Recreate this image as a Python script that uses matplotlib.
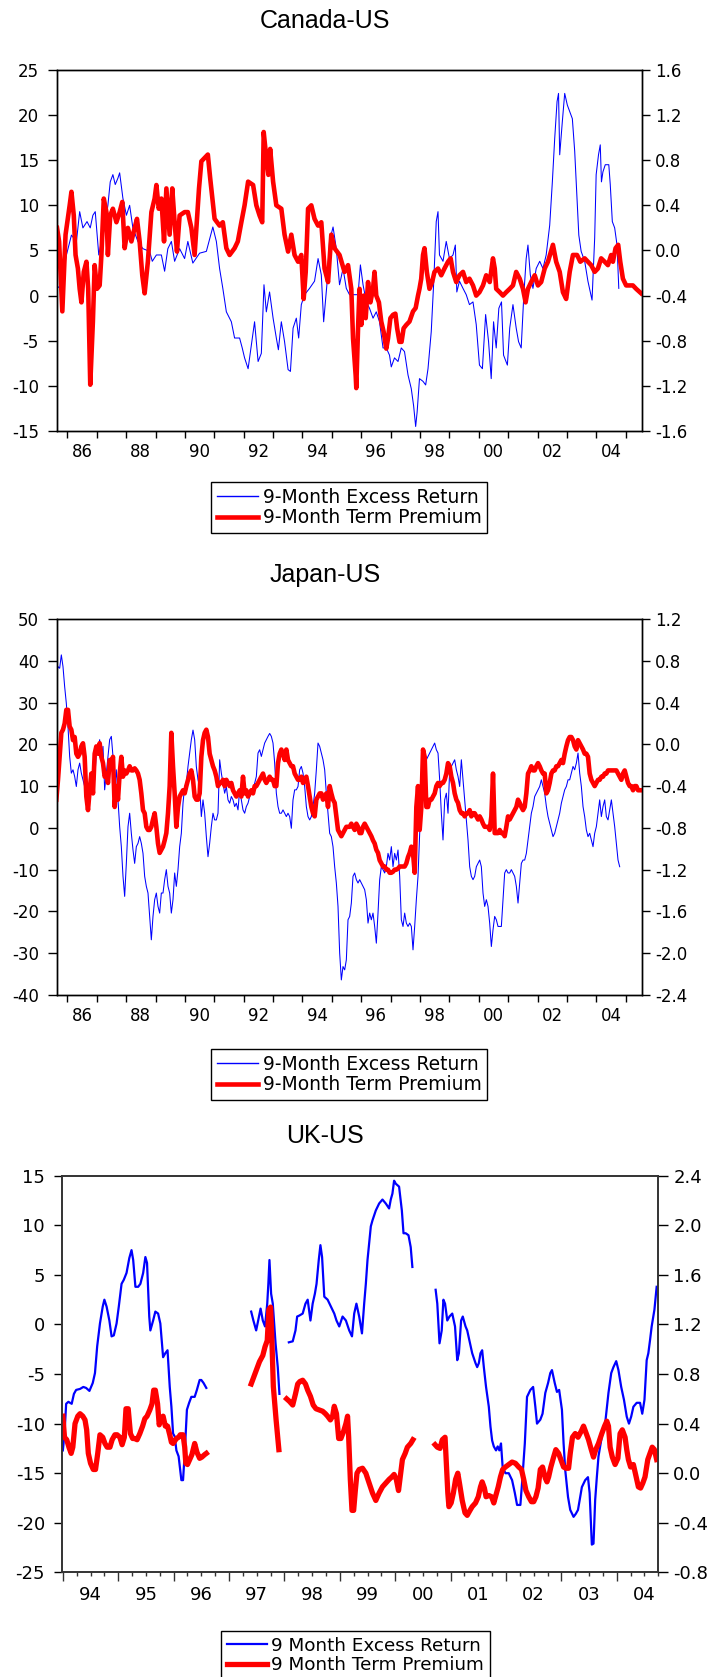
import numpy as np
import matplotlib
matplotlib.use('Agg')
import matplotlib.pyplot as plt
from matplotlib.ticker import FormatStrFormatter
from matplotlib.lines import Line2D

plt.rcParams['font.family'] = ['DejaVu Sans']
plt.rcParams['axes.unicode_minus'] = False

nan = np.nan

# ---------------- Canada-US: (year, value) ----------------
ca_excess = [
    (1985.65, 0.8), (1985.80, 1.2), (1985.97, 4.5), (1986.14, 6.7), (1986.31, 6.0), (1986.42, 9.3), (1986.53, 7.5), (1986.67, 8.2), (1986.78, 7.5), (1986.87, 8.9),
    (1986.95, 9.3), (1987.07, 4.5), (1987.16, 6.0), (1987.27, 7.5), (1987.38, 10.0), (1987.46, 12.6), (1987.55, 13.4), (1987.63, 12.3), (1987.72, 13.0), (1987.78, 13.6),
    (1987.89, 10.8), (1988.01, 8.9), (1988.12, 10.0), (1988.23, 7.5), (1988.40, 6.0), (1988.57, 5.2), (1988.80, 4.9), (1988.89, 3.8), (1989.03, 4.5), (1989.20, 4.5),
    (1989.31, 2.7), (1989.42, 5.2), (1989.54, 6.0), (1989.65, 3.8), (1989.82, 5.2), (1989.99, 4.1), (1990.10, 6.0), (1990.27, 3.6), (1990.50, 4.7), (1990.73, 4.9),
    (1990.95, 7.6), (1991.07, 6.0), (1991.18, 3.0), (1991.29, 0.8), (1991.41, -1.8), (1991.58, -2.9), (1991.69, -4.7), (1991.86, -4.7), (1991.95, -5.8), (1992.03, -6.9),
    (1992.15, -8.1), (1992.26, -5.5), (1992.37, -2.9), (1992.49, -7.3), (1992.60, -6.4), (1992.69, 1.2), (1992.77, -1.8), (1992.88, 0.4), (1993.00, -2.5), (1993.11, -4.7),
    (1993.18, -6.0), (1993.28, -2.9), (1993.39, -5.1), (1993.51, -8.2), (1993.59, -8.4), (1993.68, -3.6), (1993.79, -2.5), (1993.87, -4.7), (1993.96, -1.0), (1994.07, 0.1),
    (1994.24, 0.8), (1994.41, 1.6), (1994.53, 4.1), (1994.64, 2.3), (1994.72, -2.9), (1994.83, 1.2), (1994.92, 6.0), (1995.04, 7.6), (1995.15, 5.2), (1995.26, 1.2),
    (1995.38, 3.0), (1995.49, 0.8), (1995.60, 0.1), (1995.89, 0.1), (1995.97, 3.4), (1996.06, 1.2), (1996.17, -0.7), (1996.28, -1.4), (1996.40, -2.5), (1996.51, -1.8),
    (1996.62, -2.9), (1996.74, -5.8), (1996.85, -5.8), (1996.96, -6.6), (1997.02, -7.9), (1997.13, -6.9), (1997.25, -7.3), (1997.36, -5.8), (1997.47, -6.2), (1997.59, -8.8),
    (1997.70, -10.3), (1997.78, -12.2), (1997.85, -14.5), (1997.90, -12.9), (1997.98, -9.2), (1998.10, -9.5), (1998.19, -9.9), (1998.27, -8.1), (1998.38, -4.0), (1998.46, 1.2),
    (1998.55, 8.2), (1998.61, 9.3), (1998.66, 4.5), (1998.78, 3.8), (1998.89, 6.0), (1999.00, 4.1), (1999.12, 4.5), (1999.20, 5.6), (1999.25, 0.4), (1999.34, 1.6),
    (1999.46, 0.8), (1999.57, 0.1), (1999.68, -1.0), (1999.80, -0.7), (1999.91, -3.2), (2000.02, -7.7), (2000.12, -8.1), (2000.23, -2.1), (2000.33, -5.1), (2000.42, -9.2),
    (2000.50, -2.9), (2000.59, -5.8), (2000.68, -1.4), (2000.77, -0.7), (2000.84, -6.6), (2000.97, -7.7), (2001.05, -3.6), (2001.16, -1.0), (2001.27, -3.6), (2001.35, -5.1),
    (2001.44, -5.8), (2001.53, 0.1), (2001.61, 4.1), (2001.67, 5.6), (2001.75, 2.3), (2001.84, 0.8), (2001.95, 3.0), (2002.07, 3.8), (2002.18, 3.0), (2002.29, 4.5),
    (2002.41, 7.8), (2002.50, 12.6), (2002.58, 17.4), (2002.66, 21.5), (2002.71, 22.4), (2002.75, 15.6), (2002.84, 19.3), (2002.92, 22.4), (2003.01, 21.1), (2003.09, 20.4),
    (2003.18, 19.6), (2003.26, 16.0), (2003.34, 10.8), (2003.40, 6.7), (2003.48, 4.9), (2003.60, 3.8), (2003.71, 1.6), (2003.85, -0.5), (2003.94, 6.4), (2003.99, 13.4),
    (2004.07, 15.6), (2004.13, 16.7), (2004.17, 12.6), (2004.22, 13.7), (2004.30, 14.5), (2004.42, 14.5), (2004.47, 12.3), (2004.54, 8.2), (2004.62, 7.5), (2004.70, 5.6),
    (2004.76, 0.8),
]
ca_premium = [
    (1985.65, 0.20), (1985.72, 0.08), (1985.83, -0.54), (1985.94, 0.14), (1986.08, 0.40), (1986.14, 0.52), (1986.22, 0.31), (1986.28, -0.04), (1986.36, -0.16), (1986.42, -0.34),
    (1986.48, -0.46), (1986.56, -0.19), (1986.65, -0.10), (1986.71, -0.34), (1986.78, -1.19), (1986.87, -0.63), (1986.93, -0.13), (1987.01, -0.34), (1987.10, -0.31), (1987.16, -0.04),
    (1987.24, 0.46), (1987.33, 0.34), (1987.38, -0.04), (1987.46, 0.31), (1987.55, 0.37), (1987.67, 0.25), (1987.78, 0.34), (1987.87, 0.43), (1987.95, 0.02), (1988.06, 0.20),
    (1988.18, 0.08), (1988.29, 0.20), (1988.37, 0.28), (1988.46, 0.08), (1988.55, -0.22), (1988.63, -0.38), (1988.74, -0.10), (1988.86, 0.34), (1988.97, 0.46), (1989.03, 0.58),
    (1989.11, 0.37), (1989.20, 0.46), (1989.29, 0.08), (1989.37, 0.55), (1989.48, 0.14), (1989.57, 0.55), (1989.65, 0.25), (1989.73, -0.01), (1989.82, 0.31), (1989.99, 0.34),
    (1990.10, 0.34), (1990.22, 0.20), (1990.33, -0.04), (1990.48, 0.55), (1990.56, 0.79), (1990.67, 0.82), (1990.78, 0.85), (1990.86, 0.64), (1991.01, 0.28), (1991.18, 0.22),
    (1991.29, 0.25), (1991.41, 0.02), (1991.52, -0.04), (1991.69, 0.02), (1991.80, 0.08), (1991.92, 0.25), (1992.03, 0.40), (1992.15, 0.61), (1992.32, 0.58), (1992.43, 0.40),
    (1992.54, 0.31), (1992.63, 0.25), (1992.68, 1.05), (1992.77, 0.82), (1992.84, 0.67), (1992.90, 0.90), (1993.00, 0.61), (1993.11, 0.40), (1993.28, 0.37), (1993.39, 0.14),
    (1993.51, -0.01), (1993.62, 0.14), (1993.73, -0.04), (1993.85, -0.10), (1993.96, -0.04), (1994.04, -0.43), (1994.11, -0.19), (1994.19, 0.37), (1994.30, 0.40), (1994.41, 0.28),
    (1994.53, 0.22), (1994.64, 0.25), (1994.75, -0.16), (1994.87, -0.28), (1994.98, 0.14), (1995.09, 0.02), (1995.26, -0.04), (1995.43, -0.19), (1995.55, -0.13), (1995.66, -0.34),
    (1995.72, -0.78), (1995.81, -1.11), (1995.83, -1.22), (1995.89, -0.69), (1995.94, -0.34), (1996.00, -0.66), (1996.08, -0.40), (1996.15, -0.60), (1996.23, -0.28), (1996.31, -0.46),
    (1996.40, -0.34), (1996.45, -0.19), (1996.51, -0.40), (1996.60, -0.46), (1996.68, -0.63), (1996.76, -0.72), (1996.85, -0.87), (1996.91, -0.78), (1996.99, -0.60), (1997.08, -0.57),
    (1997.16, -0.56), (1997.22, -0.69), (1997.30, -0.81), (1997.37, -0.81), (1997.44, -0.69), (1997.53, -0.66), (1997.64, -0.63), (1997.76, -0.54), (1997.85, -0.51), (1997.93, -0.40),
    (1997.98, -0.34), (1998.04, -0.25), (1998.10, -0.04), (1998.15, 0.02), (1998.23, -0.19), (1998.32, -0.34), (1998.41, -0.28), (1998.49, -0.19), (1998.61, -0.16), (1998.72, -0.22),
    (1998.83, -0.16), (1998.95, -0.10), (1999.04, -0.07), (1999.12, -0.19), (1999.23, -0.28), (1999.34, -0.22), (1999.46, -0.19), (1999.57, -0.28), (1999.68, -0.25), (1999.80, -0.31),
    (1999.91, -0.40), (2000.02, -0.37), (2000.14, -0.31), (2000.25, -0.22), (2000.37, -0.28), (2000.48, -0.07), (2000.54, -0.16), (2000.59, -0.34), (2000.71, -0.37), (2000.82, -0.40),
    (2000.93, -0.37), (2001.05, -0.34), (2001.16, -0.31), (2001.27, -0.19), (2001.39, -0.25), (2001.50, -0.34), (2001.59, -0.46), (2001.67, -0.34), (2001.78, -0.28), (2001.90, -0.22),
    (2002.01, -0.31), (2002.12, -0.28), (2002.24, -0.16), (2002.35, -0.10), (2002.52, 0.05), (2002.63, -0.10), (2002.75, -0.19), (2002.86, -0.37), (2002.97, -0.43), (2003.09, -0.19),
    (2003.20, -0.04), (2003.34, -0.04), (2003.45, -0.10), (2003.60, -0.07), (2003.71, -0.10), (2003.82, -0.13), (2003.94, -0.19), (2004.05, -0.16), (2004.16, -0.07), (2004.28, -0.10),
    (2004.39, -0.13), (2004.50, -0.04), (2004.56, -0.10), (2004.65, 0.02), (2004.74, 0.05), (2004.81, -0.10), (2004.90, -0.25), (2005.01, -0.31), (2005.13, -0.31), (2005.24, -0.31),
    (2005.35, -0.34), (2005.52, -0.38),
]

# ---------------- Japan-US: evenly spaced observations ----------------
jp_start = 1985.626   # decimal year of first observation
jp_step = 0.0567      # about three weeks
jp_excess = [
    36.2, 38.6, 38.2, 41.4, 38.6, 33.8, 29.8, 24.2, 17.1, 13.1,
    13.9, 12.3, 9.9, 13.9, 15.5, 13.1, 11.5, 9.9, 6.7, 9.1,
    10.7, 9.9, 9.1, 11.5, 17.9, 18.7, 21.1, 16.3, 19.5, 9.1,
    13.1, 17.1, 21.1, 21.9, 17.1, 9.9, 13.9, 6.7, 0.3, -4.5,
    -11.6, -16.4, -8.5, 0.3, 3.5, -1.3, -5.3, -8.5, -4.5, -3.7,
    -2.1, -3.7, -6.1, -11.6, -14.0, -15.6, -21.2, -26.8, -21.2, -17.2,
    -15.6, -18.8, -20.4, -15.6, -15.6, -12.4, -10.0, -14.0, -15.6, -20.4,
    -17.2, -10.8, -14.0, -10.0, -4.5, -1.3, 5.9, 9.9, 10.7, 14.7,
    17.9, 21.1, 23.4, 21.1, 14.7, 11.5, 9.9, 2.7, 6.7, 3.5,
    -2.1, -6.9, -3.7, 0.3, 3.5, 1.9, 1.9, 3.5, 16.3, 13.1,
    10.7, 8.3, 9.9, 6.7, 5.9, 7.5, 6.7, 5.1, 5.9, 4.3,
    9.1, 6.7, 4.3, 3.5, 5.1, 5.9, 7.5, 8.3, 9.1, 10.7,
    12.3, 17.9, 18.7, 17.1, 18.7, 20.3, 21.1, 21.9, 22.6, 21.9,
    20.3, 15.5, 8.3, 5.1, 3.5, 3.5, 4.3, 3.5, 2.7, 3.5,
    2.7, -0.1, 6.7, 9.1, 9.1, 9.9, 13.9, 14.7, 13.1, 9.9,
    5.1, 2.7, 1.9, 2.7, 5.1, 8.3, 13.9, 20.3, 19.5, 17.9,
    16.3, 13.9, 8.3, 3.5, -1.3, -2.1, -4.5, -9.3, -13.2, -18.8,
    -30.0, -36.4, -33.2, -34.0, -31.6, -22.0, -21.2, -18.0, -11.6, -10.8,
    -12.4, -13.2, -12.4, -13.2, -14.0, -14.8, -17.2, -22.8, -20.4, -22.0,
    -20.4, -23.6, -27.6, -20.4, -12.4, -9.3, -10.0, -10.8, -9.3, -6.1,
    -7.7, -4.5, -9.3, -6.1, -7.7, -5.3, -11.6, -22.0, -23.6, -20.4,
    -22.8, -23.6, -22.8, -23.6, -29.2, -23.6, -17.2, -11.6, -1.3, 6.7,
    14.7, 16.3, 16.3, 17.1, 17.9, 18.7, 19.5, 20.3, 18.7, 17.9,
    11.5, 3.5, -2.9, 6.7, 8.3, 3.5, 13.9, 14.7, 15.5, 16.3,
    13.9, 12.3, 9.9, 16.3, 11.5, 6.7, 1.9, -2.9, -9.3, -11.6,
    -12.4, -11.6, -9.3, -8.5, -7.7, -9.3, -15.6, -18.8, -17.2, -18.8,
    -22.8, -28.4, -24.4, -21.2, -22.0, -23.6, -23.6, -23.6, -17.2, -10.8,
    -10.0, -10.8, -10.8, -10.0, -10.8, -11.6, -14.0, -18.0, -13.2, -8.5,
    -7.7, -7.7, -6.1, -2.9, 0.3, 3.5, 5.1, 7.5, 8.3, 9.1,
    9.9, 11.5, 9.9, 8.3, 5.1, 2.7, 1.1, -0.5, -2.1, -1.3,
    0.3, 1.9, 3.5, 5.9, 7.5, 9.1, 9.9, 11.5, 11.5, 13.1,
    14.7, 13.9, 15.5, 17.9, 13.1, 9.9, 5.1, 2.7, -0.5, -2.1,
    -1.3, -2.9, -4.5, -1.3, 0.3, 3.5, 6.7, 2.7, 5.1, 6.7,
    2.7, 1.9, 4.3, 6.7, 3.5, 0.3, -3.7, -7.7, -9.3,
]
jp_premium = [
    -0.53, -0.34, -0.12, 0.11, 0.14, 0.20, 0.33, 0.33, 0.17, 0.14,
    0.04, 0.07, -0.09, -0.12, -0.09, -0.02, 0.01, -0.12, -0.50, -0.63,
    -0.44, -0.28, -0.47, -0.09, -0.02, -0.09, 0.01, -0.12, -0.18, -0.31,
    -0.28, -0.37, -0.15, -0.18, -0.12, -0.60, -0.40, -0.53, -0.28, -0.12,
    -0.31, -0.25, -0.28, -0.25, -0.21, -0.25, -0.25, -0.23, -0.25, -0.28,
    -0.34, -0.47, -0.63, -0.66, -0.79, -0.82, -0.82, -0.79, -0.72, -0.66,
    -0.79, -0.95, -1.04, -1.01, -0.98, -0.92, -0.85, -0.66, -0.40, 0.11,
    -0.21, -0.47, -0.79, -0.60, -0.50, -0.47, -0.44, -0.47, -0.40, -0.34,
    -0.28, -0.25, -0.34, -0.50, -0.53, -0.53, -0.47, -0.12, 0.04, 0.11,
    0.14, 0.07, -0.09, -0.15, -0.21, -0.25, -0.31, -0.40, -0.37, -0.37,
    -0.34, -0.40, -0.34, -0.37, -0.40, -0.37, -0.44, -0.47, -0.50, -0.47,
    -0.44, -0.50, -0.31, -0.47, -0.44, -0.50, -0.47, -0.44, -0.47, -0.40,
    -0.40, -0.37, -0.34, -0.31, -0.28, -0.34, -0.37, -0.34, -0.31, -0.34,
    -0.34, -0.40, -0.40, -0.18, -0.09, -0.05, -0.09, -0.15, -0.05, -0.15,
    -0.18, -0.21, -0.21, -0.28, -0.31, -0.34, -0.34, -0.31, -0.37, -0.34,
    -0.31, -0.40, -0.50, -0.60, -0.66, -0.69, -0.53, -0.50, -0.47, -0.47,
    -0.53, -0.50, -0.47, -0.60, -0.40, -0.47, -0.53, -0.56, -0.69, -0.82,
    -0.85, -0.88, -0.85, -0.82, -0.79, -0.79, -0.79, -0.76, -0.79, -0.82,
    -0.76, -0.79, -0.85, -0.85, -0.79, -0.76, -0.79, -0.82, -0.85, -0.88,
    -0.92, -0.95, -1.01, -1.04, -1.11, -1.14, -1.17, -1.17, -1.20, -1.20,
    -1.23, -1.23, -1.22, -1.20, -1.20, -1.19, -1.17, -1.17, -1.17, -1.17,
    -1.14, -1.08, -1.04, -0.98, -1.04, -1.23, -0.60, -0.40, -0.82, -0.60,
    -0.05, -0.12, -0.60, -0.60, -0.53, -0.53, -0.50, -0.47, -0.40, -0.37,
    -0.40, -0.37, -0.37, -0.34, -0.28, -0.18, -0.21, -0.31, -0.37, -0.47,
    -0.53, -0.56, -0.63, -0.66, -0.66, -0.69, -0.66, -0.66, -0.63, -0.69,
    -0.66, -0.66, -0.69, -0.72, -0.69, -0.72, -0.76, -0.79, -0.79, -0.79,
    -0.82, -0.69, -0.28, -0.85, -0.85, -0.85, -0.82, -0.85, -0.85, -0.88,
    -0.79, -0.69, -0.72, -0.69, -0.66, -0.63, -0.60, -0.53, -0.56, -0.60,
    -0.63, -0.60, -0.47, -0.28, -0.25, -0.21, -0.25, -0.25, -0.21, -0.18,
    -0.21, -0.25, -0.28, -0.28, -0.47, -0.44, -0.37, -0.28, -0.25, -0.25,
    -0.21, -0.21, -0.18, -0.15, -0.18, -0.09, -0.02, 0.04, 0.07, 0.07,
    0.04, -0.02, -0.05, 0.04, 0.01, -0.02, -0.05, -0.09, -0.09, -0.12,
    -0.28, -0.34, -0.37, -0.40, -0.37, -0.34, -0.34, -0.31, -0.31, -0.28,
    -0.28, -0.25, -0.25, -0.25, -0.25, -0.25, -0.25, -0.28, -0.31, -0.34,
    -0.28, -0.25, -0.31, -0.37, -0.40, -0.40, -0.44, -0.40, -0.40, -0.44,
    -0.44, -0.44,
]

# ---------------- UK-US: (year, value), nan = no observation ----------------
uk_excess = [
    (1994.00, -12.7), (1994.03, -11.0), (1994.06, -8.0), (1994.10, -7.8), (1994.16, -8.0), (1994.20, -7.0), (1994.24, -6.6), (1994.31, -6.5), (1994.37, -6.3), (1994.42, -6.4),
    (1994.48, -6.7), (1994.54, -5.9), (1994.58, -4.9), (1994.62, -2.2), (1994.67, 0.1), (1994.72, 1.8), (1994.75, 2.5), (1994.79, 1.8), (1994.84, 0.4), (1994.88, -1.2),
    (1994.92, -1.1), (1994.97, 0.1), (1995.01, 1.8), (1995.06, 4.1), (1995.10, 4.5), (1995.15, 5.2), (1995.20, 6.7), (1995.24, 7.5), (1995.27, 6.5), (1995.31, 3.8),
    (1995.36, 3.8), (1995.40, 4.1), (1995.45, 5.2), (1995.49, 6.8), (1995.52, 6.2), (1995.56, 0.8), (1995.58, -0.6), (1995.63, 0.4), (1995.67, 1.3), (1995.72, 1.1),
    (1995.76, 0.1), (1995.81, -3.3), (1995.85, -2.9), (1995.89, -2.6), (1995.93, -6.3), (1995.96, -8.3), (1995.99, -11.0), (1996.02, -11.3), (1996.05, -12.7), (1996.09, -13.3),
    (1996.14, -15.7), (1996.17, -15.7), (1996.20, -13.0), (1996.24, -8.6), (1996.28, -7.9), (1996.32, -7.3), (1996.38, -7.3), (1996.42, -6.6), (1996.47, -5.6), (1996.50, -5.6),
    (1996.54, -5.9), (1996.59, -6.4),
    (1997.00, nan),
    (1997.40, 1.3), (1997.44, 0.4), (1997.49, -0.6), (1997.54, 0.8), (1997.57, 1.6), (1997.61, 0.4), (1997.65, -0.2), (1997.69, 2.1), (1997.71, 4.1), (1997.73, 6.5),
    (1997.76, 3.1), (1997.79, 2.1), (1997.84, -1.9), (1997.88, -4.3), (1997.91, -7.0),
    (1998.00, nan),
    (1998.08, -1.8), (1998.15, -1.7), (1998.20, -0.6), (1998.23, 0.8), (1998.27, 0.9), (1998.33, 1.1), (1998.38, 2.1), (1998.42, 2.5), (1998.47, 0.4), (1998.51, 2.1),
    (1998.55, 3.1), (1998.58, 4.1), (1998.62, 6.5), (1998.65, 8.0), (1998.68, 6.8), (1998.72, 2.8), (1998.78, 2.5), (1998.84, 1.8), (1998.90, 1.1), (1998.94, 0.4),
    (1998.99, -0.2), (1999.05, 0.8), (1999.11, 0.4), (1999.17, -0.6), (1999.22, -1.2), (1999.26, 1.1), (1999.30, 2.1), (1999.35, 0.8), (1999.40, -0.9), (1999.44, 2.1),
    (1999.47, 4.1), (1999.50, 6.5), (1999.53, 8.2), (1999.56, 9.9), (1999.59, 10.5), (1999.65, 11.5), (1999.71, 12.2), (1999.77, 12.6), (1999.83, 12.2), (1999.89, 11.7),
    (1999.92, 12.6), (1999.95, 13.2), (1999.98, 14.5), (2000.01, 14.2), (2000.07, 13.9), (2000.12, 11.5), (2000.15, 9.2), (2000.19, 9.2), (2000.24, 9.0), (2000.28, 7.8),
    (2000.31, 5.8),
    (2000.50, nan),
    (2000.73, 3.5), (2000.76, 2.1), (2000.80, -1.9), (2000.84, -0.6), (2000.87, 2.5), (2000.90, 2.1), (2000.94, 0.4), (2000.98, 0.8), (2001.03, 1.1), (2001.08, -0.2),
    (2001.12, -3.6), (2001.15, -2.9), (2001.19, 0.4), (2001.22, 0.8), (2001.27, -0.2), (2001.30, -0.6), (2001.34, -1.6), (2001.39, -2.9), (2001.45, -3.9), (2001.48, -4.3),
    (2001.51, -3.9), (2001.54, -2.9), (2001.57, -2.6), (2001.60, -4.3), (2001.64, -6.3), (2001.69, -8.3), (2001.72, -10.3), (2001.75, -11.7), (2001.78, -12.3), (2001.82, -12.7),
    (2001.85, -12.3), (2001.88, -12.7), (2001.91, -12.0), (2001.94, -14.4), (2001.99, -15.0), (2002.05, -15.0), (2002.11, -15.7), (2002.16, -17.0), (2002.20, -18.2), (2002.26, -18.2),
    (2002.29, -16.0), (2002.34, -12.0), (2002.38, -7.3), (2002.44, -6.6), (2002.49, -6.3), (2002.53, -8.3), (2002.56, -10.0), (2002.62, -9.6), (2002.66, -9.0), (2002.71, -6.9),
    (2002.76, -5.9), (2002.80, -4.9), (2002.83, -4.6), (2002.88, -5.9), (2002.92, -6.8), (2002.96, -6.6), (2003.01, -8.6), (2003.04, -12.0), (2003.07, -14.7), (2003.12, -17.4),
    (2003.16, -18.7), (2003.22, -19.4), (2003.26, -19.1), (2003.30, -18.7), (2003.34, -17.4), (2003.37, -16.4), (2003.43, -15.7), (2003.48, -15.4), (2003.51, -17.0), (2003.55, -22.2),
    (2003.58, -22.1), (2003.61, -17.7), (2003.64, -15.4), (2003.67, -13.3), (2003.70, -12.3), (2003.73, -11.3), (2003.79, -10.0), (2003.85, -6.9), (2003.90, -4.9), (2003.94, -4.3),
    (2003.99, -3.7), (2004.03, -4.6), (2004.08, -6.3), (2004.13, -7.6), (2004.18, -9.3), (2004.22, -10.0), (2004.26, -9.3), (2004.30, -8.3), (2004.36, -7.9), (2004.42, -7.9),
    (2004.46, -9.0), (2004.50, -7.6), (2004.54, -3.6), (2004.57, -2.9), (2004.60, -1.6), (2004.63, -0.2), (2004.68, 1.5), (2004.72, 3.8),
]
uk_premium = [
    (1994.00, 0.46), (1994.03, 0.29), (1994.07, 0.27), (1994.11, 0.21), (1994.15, 0.16), (1994.18, 0.21), (1994.22, 0.40), (1994.27, 0.46), (1994.31, 0.48), (1994.36, 0.46),
    (1994.40, 0.43), (1994.43, 0.35), (1994.46, 0.16), (1994.50, 0.08), (1994.55, 0.03), (1994.59, 0.03), (1994.63, 0.16), (1994.67, 0.31), (1994.72, 0.29), (1994.76, 0.24),
    (1994.80, 0.21), (1994.85, 0.21), (1994.89, 0.27), (1994.94, 0.31), (1994.98, 0.31), (1995.03, 0.29), (1995.07, 0.23), (1995.11, 0.29), (1995.14, 0.52), (1995.18, 0.52),
    (1995.22, 0.32), (1995.26, 0.28), (1995.30, 0.28), (1995.34, 0.27), (1995.39, 0.32), (1995.44, 0.38), (1995.48, 0.44), (1995.52, 0.46), (1995.57, 0.51), (1995.61, 0.56),
    (1995.64, 0.67), (1995.67, 0.67), (1995.71, 0.56), (1995.74, 0.39), (1995.77, 0.44), (1995.81, 0.46), (1995.85, 0.38), (1995.89, 0.38), (1995.93, 0.31), (1995.96, 0.25),
    (1995.99, 0.24), (1996.05, 0.28), (1996.09, 0.29), (1996.12, 0.31), (1996.17, 0.31), (1996.20, 0.21), (1996.22, 0.08), (1996.25, 0.07), (1996.29, 0.11), (1996.33, 0.15),
    (1996.38, 0.24), (1996.42, 0.17), (1996.47, 0.12), (1996.51, 0.13), (1996.56, 0.15), (1996.59, 0.16),
    (1997.00, nan),
    (1997.40, 0.72), (1997.45, 0.78), (1997.49, 0.83), (1997.55, 0.90), (1997.61, 0.95), (1997.65, 1.02), (1997.69, 1.07), (1997.72, 1.32), (1997.75, 1.34), (1997.77, 1.13),
    (1997.80, 0.70), (1997.85, 0.43), (1997.90, 0.19),
    (1997.97, nan),
    (1998.04, 0.60), (1998.09, 0.58), (1998.15, 0.55), (1998.20, 0.64), (1998.24, 0.72), (1998.28, 0.74), (1998.33, 0.75), (1998.38, 0.72), (1998.42, 0.67), (1998.47, 0.62),
    (1998.52, 0.55), (1998.57, 0.52), (1998.63, 0.51), (1998.69, 0.50), (1998.74, 0.48), (1998.78, 0.46), (1998.83, 0.43), (1998.87, 0.46), (1998.90, 0.54), (1998.94, 0.48),
    (1998.98, 0.28), (1999.02, 0.28), (1999.07, 0.34), (1999.11, 0.40), (1999.14, 0.46), (1999.16, 0.29), (1999.19, -0.05), (1999.22, -0.30), (1999.25, -0.30), (1999.28, -0.14),
    (1999.31, 0.00), (1999.35, 0.03), (1999.41, 0.04), (1999.47, 0.00), (1999.53, -0.08), (1999.59, -0.16), (1999.65, -0.22), (1999.71, -0.16), (1999.77, -0.11), (1999.83, -0.08),
    (1999.89, -0.05), (1999.94, -0.03), (1999.98, -0.01), (2000.02, -0.05), (2000.06, -0.14), (2000.10, 0.00), (2000.13, 0.11), (2000.18, 0.16), (2000.22, 0.21), (2000.28, 0.24),
    (2000.32, 0.27),
    (2000.50, nan),
    (2000.72, 0.23), (2000.76, 0.21), (2000.81, 0.20), (2000.85, 0.27), (2000.90, 0.29), (2000.92, 0.11), (2000.95, -0.16), (2000.97, -0.27), (2001.01, -0.24), (2001.05, -0.16),
    (2001.09, -0.05), (2001.13, 0.00), (2001.16, -0.08), (2001.21, -0.22), (2001.26, -0.32), (2001.30, -0.34), (2001.35, -0.30), (2001.39, -0.27), (2001.45, -0.24), (2001.50, -0.19),
    (2001.54, -0.11), (2001.57, -0.07), (2001.61, -0.12), (2001.64, -0.19), (2001.69, -0.18), (2001.74, -0.19), (2001.78, -0.24), (2001.81, -0.19), (2001.86, -0.11), (2001.90, -0.03),
    (2001.94, 0.03), (2001.99, 0.05), (2002.05, 0.07), (2002.11, 0.09), (2002.17, 0.08), (2002.23, 0.05), (2002.28, 0.03), (2002.32, -0.05), (2002.36, -0.14), (2002.41, -0.19),
    (2002.46, -0.23), (2002.50, -0.23), (2002.54, -0.19), (2002.58, -0.12), (2002.62, 0.03), (2002.66, 0.05), (2002.71, -0.04), (2002.74, -0.07), (2002.77, -0.03), (2002.81, 0.05),
    (2002.86, 0.13), (2002.90, 0.19), (2002.95, 0.16), (2002.99, 0.11), (2003.04, 0.05), (2003.08, 0.04), (2003.13, 0.04), (2003.16, 0.16), (2003.20, 0.29), (2003.25, 0.32),
    (2003.30, 0.29), (2003.36, 0.34), (2003.40, 0.38), (2003.45, 0.32), (2003.49, 0.27), (2003.54, 0.19), (2003.58, 0.13), (2003.62, 0.19), (2003.67, 0.24), (2003.73, 0.32),
    (2003.78, 0.38), (2003.82, 0.42), (2003.85, 0.38), (2003.88, 0.21), (2003.92, 0.13), (2003.97, 0.07), (2004.02, 0.12), (2004.06, 0.32), (2004.10, 0.35), (2004.15, 0.29),
    (2004.18, 0.19), (2004.21, 0.11), (2004.25, 0.05), (2004.30, 0.07), (2004.35, -0.03), (2004.39, -0.11), (2004.43, -0.12), (2004.47, -0.08), (2004.51, -0.03), (2004.56, 0.11),
    (2004.60, 0.16), (2004.64, 0.21), (2004.68, 0.19), (2004.72, 0.11),
]

BLUE = '#0000ff'
RED = '#ff0000'
TITLE_FONT = 'Liberation Sans'

fig = plt.figure(figsize=(7.12, 16.77), dpi=100)


def unzip(pairs):
    a = np.array(pairs, dtype=float)
    return a[:, 0], a[:, 1]


def setup_y(ax, axr, lticks, rticks, size, lpad, rlen, rpad, llen):
    ax.set_ylim(lticks[0], lticks[-1])
    ax.set_yticks(lticks)
    ax.tick_params(axis='y', direction='out', length=llen, width=1, pad=lpad,
                   labelsize=size, colors='black')
    axr.set_ylim(rticks[0], rticks[-1])
    axr.set_yticks(rticks)
    axr.yaxis.set_major_formatter(FormatStrFormatter('%.1f'))
    axr.tick_params(axis='y', direction='out', length=rlen, width=1, pad=rpad,
                    labelsize=size, colors='black')


def add_legend(anchor, size, lw_blue, lw_red, text):
    handles = [Line2D([], [], color=BLUE, lw=lw_blue),
               Line2D([], [], color=RED, lw=lw_red)]
    leg = fig.legend(handles, text, loc='upper left', bbox_to_anchor=anchor,
                     frameon=True, fancybox=False, framealpha=1, edgecolor='black',
                     fontsize=size, handlelength=2.2, handletextpad=0.25,
                     borderpad=0.3, labelspacing=0.1, borderaxespad=0)
    leg.get_frame().set_linewidth(1.0)


labels_dash = ['9-Month Excess Return', '9-Month Term Premium']
year_labels = ['86', '88', '90', '92', '94', '96', '98', '00', '02', '04']


def long_panel(rect, title_y, title):
    ax = fig.add_axes(rect)
    axr = ax.twinx()
    ax.set_xlim(1985.65, 2005.55)
    ax.set_xticks(np.arange(1986, 2006))
    ax.set_xticks(np.arange(1986.5, 2005, 2), labels=year_labels, minor=True)
    ax.tick_params(axis='x', which='major', direction='out', length=5, width=1,
                   labelbottom=False)
    ax.tick_params(axis='x', which='minor', length=0, pad=9, labelsize=12)
    for a in (ax, axr):
        for s in a.spines.values():
            s.set_linewidth(1.0)
            s.set_color('black')
    fig.text(0.4565, title_y, title, ha='center', va='baseline', fontsize=18,
             family=TITLE_FONT)
    return ax, axr


# Canada-US
ax1, ax1r = long_panel([0.0801, 0.7430, 0.8216, 0.2153], 0.9831, 'Canada-US')
x, y = unzip(ca_excess)
ax1.plot(x, y, color=BLUE, lw=0.75)
x, y = unzip(ca_premium)
ax1r.plot(x, y, color=RED, lw=3.3)
setup_y(ax1, ax1r, np.arange(-15, 26, 5), np.arange(-16, 17, 4) / 10, 12, 6.5, 5.8, 3.6, 6.5)
add_legend((0.2963, 0.7126), 13.5, 1.0, 3.3, labels_dash)

# Japan-US
ax2, ax2r = long_panel([0.0801, 0.4067, 0.8216, 0.2242], 0.6530, 'Japan-US')
ax2.plot(jp_start + jp_step * np.arange(len(jp_excess)), jp_excess, color=BLUE, lw=0.75)
ax2r.plot(jp_start + jp_step * np.arange(len(jp_premium)), jp_premium, color=RED, lw=3.3)
setup_y(ax2, ax2r, np.arange(-40, 51, 10), np.arange(-24, 13, 4) / 10, 12, 6.5, 5.8, 3.6, 6.5)
add_legend((0.2963, 0.3745), 13.5, 1.0, 3.3, labels_dash)

# UK-US
ax3 = fig.add_axes([0.0867, 0.0624, 0.8379, 0.2365])
ax3r = ax3.twinx()
x, y = unzip(uk_excess)
ax3.plot(x, y, color=BLUE, lw=1.6)
x, y = unzip(uk_premium)
ax3r.plot(x, y, color=RED, lw=3.8)
ax3.set_xlim(1993.98, 2004.73)
ax3.set_xticks(np.arange(1994, 2005))
ax3.set_xticks(np.arange(1994, 2004.8, 0.25), minor=True)
ax3.tick_params(axis='x', which='major', direction='out', length=6.5, width=1,
                labelbottom=False, color='#333333')
ax3.tick_params(axis='x', which='minor', direction='out', length=3, width=1,
                labelbottom=False, color='#333333')
sec = ax3.secondary_xaxis('bottom')
sec.set_xticks(np.arange(1994.5, 2005), labels=['94', '95', '96', '97', '98', '99',
                                                  '00', '01', '02', '03', '04'])
sec.tick_params(length=0, pad=10, labelsize=13)
sec.spines['bottom'].set_visible(False)
setup_y(ax3, ax3r, np.arange(-25, 16, 5), np.arange(-8, 25, 4) / 10, 13, 6, 7.2, 3.6, 6)
for a in (ax3, ax3r):
    for s in a.spines.values():
        s.set_linewidth(1.2)
        s.set_color('#333333')
fig.text(0.4565, 0.3184, 'UK-US', ha='center', va='baseline', fontsize=18,
         family=TITLE_FONT)
add_legend((0.3104, 0.0274), 13.2, 1.6, 3.8,
           ['9 Month Excess Return', '9 Month Term Premium'])

fig.savefig('out.png', dpi=100)
